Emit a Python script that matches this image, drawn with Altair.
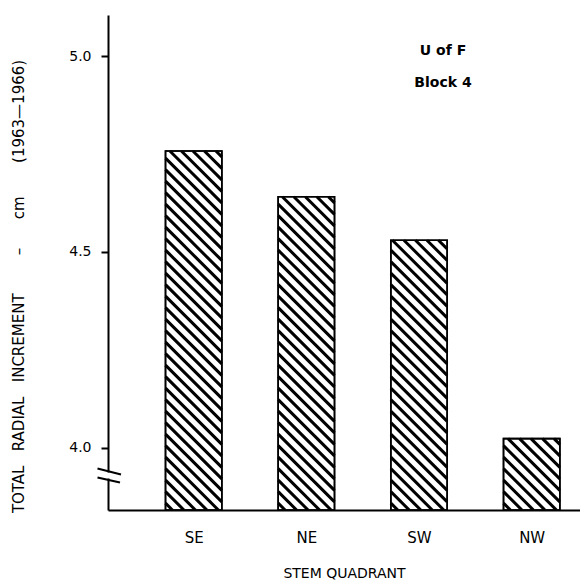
import altair as alt
import pandas as pd

# ---- data ----
quadrants = ["SE", "NE", "SW", "NW"]
increments = [4.758, 4.641, 4.530, 4.023]   # cm, 1963-1966
y_ticks = [4.0, 4.5, 5.0]
note_lines = ["U of F", "Block 4"]
note_y = [5.0026, 4.9215]
note_x = [3.213, 3.213]

# ---- layout / style ----
FONT = "DejaVu Sans"
X_DOMAIN = [0.2396, 4.4289]
Y_DOMAIN = [3.8405, 5.1055]
PLOT_W, PLOT_H = 472, 495
BAR_HALF = 0.25
HATCH_STEP = 11.5  # px, horizontal distance between hatch lines

positions = list(range(1, len(quadrants) + 1))
bars = pd.DataFrame({"pos": positions, "quadrant": quadrants, "value": increments})
bars["x0"] = bars["pos"] - BAR_HALF
bars["x1"] = bars["pos"] + BAR_HALF
bars["base"] = Y_DOMAIN[0]

px_x = PLOT_W / (X_DOMAIN[1] - X_DOMAIN[0])
px_y = PLOT_H / (Y_DOMAIN[1] - Y_DOMAIN[0])

# 45-degree hatch segments clipped to each bar (derived from the bar data)
rows = []
for _, b in bars.iterrows():
    W = (b.x1 - b.x0) * px_x
    H = (b.value - b.base) * px_y
    c = HATCH_STEP * 0.6
    while c < W + H:
        u0 = max(0.0, c - H)
        v0 = c - u0
        u1 = min(W, c)
        v1 = c - u1
        rows.append({"hx": b.x0 + u0 / px_x, "hy": b.base + v0 / px_y,
                     "hx2": b.x0 + u1 / px_x, "hy2": b.base + v1 / px_y})
        c += HATCH_STEP
hatch = pd.DataFrame(rows)

notes = pd.DataFrame({"text": note_lines, "x": note_x, "y": note_y})

NB = "\u00a0"
y_title = ("TOTAL " + NB * 2 + "RADIAL " + NB * 2 + "INCREMENT " + NB * 7 + "– " + NB * 5
           + "cm " + NB * 6 + "(1963—1966)")

xs = alt.Scale(domain=X_DOMAIN, nice=False, zero=False)
ys = alt.Scale(domain=Y_DOMAIN, nice=False, zero=False)

label_map = "[" + ",".join("'%s'" % q for q in quadrants) + "]"
x_axis = alt.Axis(values=positions, labelExpr=label_map + "[datum.value - 1]",
                  ticks=False, tickSize=0, labelPadding=32, labelBaseline="alphabetic",
                  labelFontSize=15, title="STEM QUADRANT", titleFontSize=14,
                  titleFontWeight="normal", titleBaseline="alphabetic", titleY=67,
                  grid=False, domainWidth=2)
y_axis = alt.Axis(values=y_ticks, format=".1f", tickSize=7, tickWidth=2, labelPadding=10,
                  labelFontSize=14, labelBaseline="middle", grid=False, domainWidth=2,
                  title=y_title, titleFontSize=15, titleFontWeight="normal",
                  titleX=-90, titleY=271, titleAngle=270, titleAlign="center",
                  titleBaseline="middle")

bar_fill = alt.Chart(bars).mark_rect(fill="white", stroke="black", strokeWidth=1.6).encode(
    x=alt.X("x0:Q", scale=xs, axis=x_axis),
    x2="x1:Q",
    y=alt.Y("value:Q", scale=ys, axis=y_axis),
    y2="base:Q",
)

hatch_lines = alt.Chart(hatch).mark_rule(color="black", strokeWidth=3, strokeCap="butt").encode(
    x=alt.X("hx:Q", scale=xs, axis=x_axis),
    x2="hx2:Q",
    y=alt.Y("hy:Q", scale=ys, axis=y_axis),
    y2="hy2:Q",
)

bar_outline = alt.Chart(bars).mark_rect(fillOpacity=0, stroke="black", strokeWidth=1.6).encode(
    x=alt.X("x0:Q", scale=xs, axis=x_axis),
    x2="x1:Q",
    y=alt.Y("value:Q", scale=ys, axis=y_axis),
    y2="base:Q",
)

note_text = alt.Chart(notes).mark_text(font=FONT, fontSize=14, fontWeight="bold",
                                       align="center", baseline="alphabetic",
                                       color="black").encode(
    x=alt.X("x:Q", scale=xs, axis=x_axis),
    y=alt.Y("y:Q", scale=ys, axis=y_axis),
    text="text:N",
)

# axis-break mark on the y axis (decoration, pixel positions)
gap = alt.Chart(pd.DataFrame({"k": [0]})).mark_rule(color="white", strokeWidth=4).encode(
    x=alt.value(0), y=alt.value(457.5), y2=alt.value(463.5))
brk = pd.DataFrame({"bx": [-10.5, -10.5], "bx2": [13, 12],
                    "by": [453.5, 462.5], "by2": [459.5, 467.5]})
break_marks = alt.Chart(brk).mark_rule(color="black", strokeWidth=2).encode(
    x=alt.X("bx:Q", scale=None), x2="bx2:Q",
    y=alt.Y("by:Q", scale=None), y2="by2:Q")

chart = alt.layer(bar_fill, hatch_lines, bar_outline, note_text, gap, break_marks).properties(
    width=PLOT_W, height=PLOT_H,
    padding={"left": 100, "top": 7, "right": 0, "bottom": 70},
    autosize=alt.AutoSizeParams(type="none"),
    background="white",
).configure_view(stroke=None).configure_axis(
    labelFont=FONT, titleFont=FONT, labelColor="black", titleColor="black",
    domainColor="black", tickColor="black",
)

chart.save("out.html", embed_options={"renderer": "svg", "actions": False})
